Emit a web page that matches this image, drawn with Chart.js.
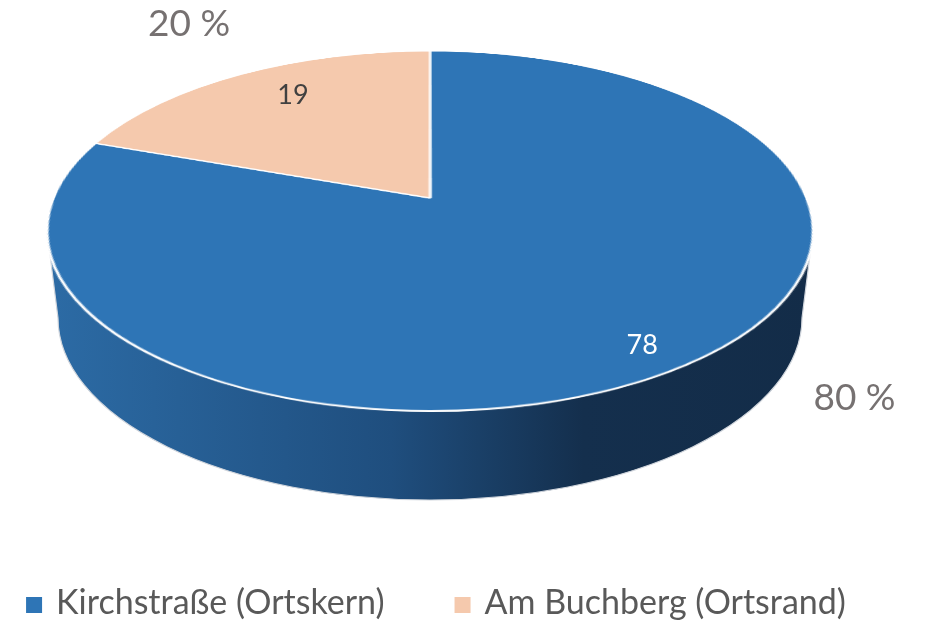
<!DOCTYPE html>
<html>
<head>
<meta charset="utf-8">
<script src="https://cdn.jsdelivr.net/npm/chart.js@4.4.1/dist/chart.umd.min.js"></script>
<style>
  html, body { margin: 0; padding: 0; background: #fff; }
  #wrap { width: 925px; height: 625px; }
</style>
</head>
<body>
<div id="wrap"><canvas id="chart" width="925" height="625"></canvas></div>
<script>
// data
const categories = ['Kirchstraße (Ortskern)', 'Am Buchberg (Ortsrand)'];
const counts = [78, 19];
const sliceColors = ['#2E75B6', '#F5C9AD'];

const total = counts.reduce((a, b) => a + b, 0);
const percentTexts = counts.map(v => Math.round(v / total * 100) + ' %');

// tilted view: outline ellipse of the top face, where the pie centre lands, and the bottom rim
const view = { cx: 430, cy: 231, rx: 383, ry: 180, hubY: 198, bx: 430, by: 318, brx: 372, bry: 182 };
// perspective parameters derived from the view
const tBack = view.hubY - (view.cy - view.ry);
const tFront = (view.cy + view.ry) - view.hubY;
const persp = (tBack - tFront) / (tBack + tFront);
const scaleY = tBack * (1 - persp);
const scaleX = view.rx * Math.sqrt(1 - persp * persp);

function project(u, v) {
  const d = 1 + persp * v;
  return [view.cx + scaleX * u / d, view.hubY + scaleY * v / d];
}
function unproject(y) {
  const d = (y - view.hubY) / scaleY;
  return d / (1 - persp * d);
}
function ellipseParam(theta) {
  const [px, py] = project(Math.cos(theta), Math.sin(theta));
  let phi = Math.atan2((py - view.cy) / view.ry, (px - view.cx) / view.rx);
  phi += 2 * Math.PI * Math.round((theta - phi) / (2 * Math.PI));
  return phi;
}

// label placement relative to each slice's mid angle
const innerK = [[0.96, 0.78], [0.62, 0.92]];
const outerK = [[1.92, 1.14], [1.09, 1.41]];
const innerColors = ['#ffffff', '#404040'];

function sideFill(ctx, i) {
  if (i === 0) {
    const g = ctx.createLinearGradient(view.cx - view.rx, 0, view.cx + view.rx, 0);
    g.addColorStop(0, '#2C6BA5');
    g.addColorStop(0.45, '#1F4E7E');
    g.addColorStop(0.7, '#142F4D');
    g.addColorStop(1, '#132C48');
    return g;
  }
  return '#B89884';
}

const pie3d = {
  id: 'pie3d',
  afterDatasetsDraw(chart) {
    const ctx = chart.ctx;
    const canvas = chart.canvas;
    const arcs = chart.getDatasetMeta(0).data;
    const first = arcs[0];
    const ax = first.x, ay = first.y, R = first.outerRadius;

    // keep the flat pie Chart.js just drew, then clear it
    const flat = document.createElement('canvas');
    flat.width = canvas.width;
    flat.height = canvas.height;
    flat.getContext('2d').drawImage(canvas, 0, 0);
    ctx.save();
    ctx.setTransform(1, 0, 0, 1, 0, 0);
    ctx.clearRect(0, 0, canvas.width, canvas.height);
    ctx.restore();

    // side wall for the front half
    arcs.forEach((arc, i) => {
      const { startAngle, endAngle } = arc.getProps(['startAngle', 'endAngle'], true);
      const p0 = ellipseParam(startAngle), p1 = ellipseParam(endAngle);
      [[0, Math.PI], [2 * Math.PI, 3 * Math.PI]].forEach(([lo, hi]) => {
        const a0 = Math.max(p0, lo);
        const a1 = Math.min(p1, hi);
        if (a1 <= a0) return;
        ctx.save();
        ctx.beginPath();
        ctx.ellipse(view.cx, view.cy, view.rx, view.ry, 0, a0, a1, false);
        ctx.ellipse(view.bx, view.by, view.brx, view.bry, 0, a1, a0, true);
        ctx.closePath();
        ctx.fillStyle = sideFill(ctx, i);
        ctx.fill();
        ctx.strokeStyle = '#d0d5dc';
        ctx.lineWidth = 1.2;
        ctx.stroke();
        ctx.restore();
      });
    });

    // top face: each screen row is one row of the flat pie, stretched sideways
    const margin = 3;
    const sxL = ax - R - margin, sw = 2 * (R + margin);
    const yTop = Math.floor(view.cy - view.ry - margin);
    const yBot = Math.ceil(view.cy + view.ry + margin);
    ctx.save();
    ctx.imageSmoothingEnabled = true;
    for (let y = yTop; y < yBot; y++) {
      const v0 = unproject(y), v1 = unproject(y + 1), vm = unproject(y + 0.5);
      const lim = (R + margin) / R;
      if (v1 < -lim || v0 > lim) continue;
      const sy0 = ay + R * v0, sy1 = ay + R * v1;
      const s = scaleX / (R * (1 + persp * vm));
      ctx.drawImage(flat, sxL, sy0, sw, Math.max(sy1 - sy0, 0.5),
        view.cx - (R + margin) * s, y, sw * s, 1);
    }
    ctx.restore();

    // value labels and percentages
    ctx.save();
    ctx.textAlign = 'center';
    ctx.textBaseline = 'middle';
    arcs.forEach((arc, i) => {
      const { startAngle, endAngle } = arc.getProps(['startAngle', 'endAngle'], true);
      const mid = (startAngle + endAngle) / 2;
      const c = Math.cos(mid), s = Math.sin(mid);
      ctx.font = '27px Lato';
      ctx.fillStyle = innerColors[i];
      ctx.fillText(String(counts[i]),
        view.cx + view.rx * innerK[i][0] * c,
        view.cy + view.ry * innerK[i][1] * s);
      ctx.font = '37px Lato';
      ctx.fillStyle = '#767171';
      ctx.fillText(percentTexts[i],
        view.cx + view.rx * outerK[i][0] * c,
        view.cy + view.ry * outerK[i][1] * s);
    });
    ctx.restore();
  },
  // legend row at the bottom (wider spacing than the built-in legend allows)
  afterDraw(chart) {
    const ctx = chart.ctx;
    const box = 16, gapText = 14, gapItem = 70, midX = 436, y = 605;
    ctx.save();
    ctx.font = '34px Lato';
    ctx.textBaseline = 'middle';
    ctx.textAlign = 'left';
    const widths = categories.map(t => ctx.measureText(t).width);
    const full = widths.reduce((s, w) => s + box + gapText + w, 0) + gapItem * (categories.length - 1);
    let x = midX - full / 2;
    categories.forEach((t, i) => {
      ctx.fillStyle = sliceColors[i];
      ctx.fillRect(x, y - box / 2, box, box);
      ctx.fillStyle = '#595959';
      ctx.fillText(t, x + box + gapText, y - 2);
      x += box + gapText + widths[i] + gapItem;
    });
    ctx.restore();
  }
};

new Chart(document.getElementById('chart'), {
  type: 'pie',
  data: {
    labels: categories,
    datasets: [{
      data: counts,
      backgroundColor: sliceColors,
      borderColor: '#ffffff',
      borderWidth: 2
    }]
  },
  options: {
    responsive: false,
    animation: false,
    layout: { padding: { bottom: 70 } },
    plugins: {
      tooltip: { enabled: false },
      legend: { display: false }
    }
  },
  plugins: [pie3d]
});
</script>
</body>
</html>
